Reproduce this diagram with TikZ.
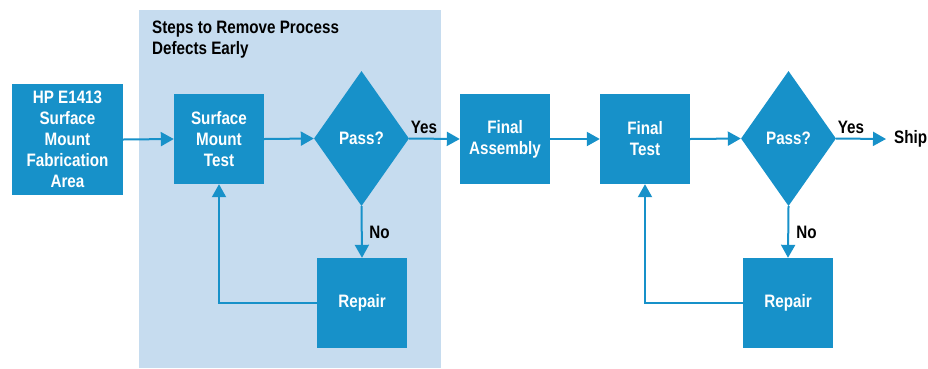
\documentclass[tikz,border=0pt]{standalone}
\usepackage{fontspec}
\setmainfont{Liberation Sans}[FakeStretch=0.845]
\usetikzlibrary{shapes.geometric,arrows.meta}
\definecolor{boxblue}{HTML}{1791C9}
\definecolor{panelblue}{HTML}{C6DCEF}
\begin{document}
\begin{tikzpicture}[x=1pt,y=-1pt,
  font=\bfseries\fontsize{18}{21}\selectfont,
  box/.style={rectangle, fill=boxblue, text=white, align=center, inner sep=0pt,
    minimum width=90pt, minimum height=90pt},
  decision/.style={diamond, fill=boxblue, text=white, inner sep=0pt,
    minimum width=95pt, minimum height=135pt},
  conn/.style={draw=boxblue, line width=2pt,
    -{Triangle[length=13pt,width=14pt]}, color=boxblue},
  lbl/.style={text=black, inner sep=0pt}]
\useasboundingbox (0,0) rectangle (928,368);
\fill[panelblue] (139,10) rectangle (441,368);
\node[lbl, anchor=west, align=left] (title) at (152,40) {Steps to Remove Process\\Defects Early};

\node[box, minimum width=111pt, minimum height=111pt] (hp) at (67.5,139.5) {HP E1413\\Surface\\Mount\\Fabrication\\Area};
\node[box] (smt) at (219,139) {Surface\\Mount\\Test};
\node[decision] (d1) at (361.5,138.5) {Pass?};
\node[box] (rep1) at (362,303) {Repair};
\node[box] (fa) at (505,139) {Final\\Assembly};
\node[box] (ft) at (645,139) {Final\\Test};
\node[decision] (d2) at (788.5,138.5) {Pass?};
\node[box] (rep2) at (788,303) {Repair};
\node[lbl, anchor=west, inner xsep=8pt] (ship) at (886,139) {Ship};

\draw[conn] (hp.east) -- (smt.west);
\draw[conn] (smt.east) -- (d1.west);
\draw[conn] (d1.east) -- (fa.west);
\draw[conn] (fa.east) -- (ft.west);
\draw[conn] (ft.east) -- (d2.west);
\draw[conn] (d2.east) -- (ship.west);
\draw[conn] (d1.south) -- (rep1.north);
\draw[conn] (d2.south) -- (rep2.north);
\draw[conn] (rep1.west) -| (smt.south);
\draw[conn] (rep2.west) -| (ft.south);

\node[lbl] (yes1) at (424,127) {Yes};
\node[lbl] (no1) at (379.5,232) {No};
\node[lbl] (yes2) at (851,127) {Yes};
\node[lbl] (no2) at (806.5,232) {No};
\end{tikzpicture}
\end{document}
